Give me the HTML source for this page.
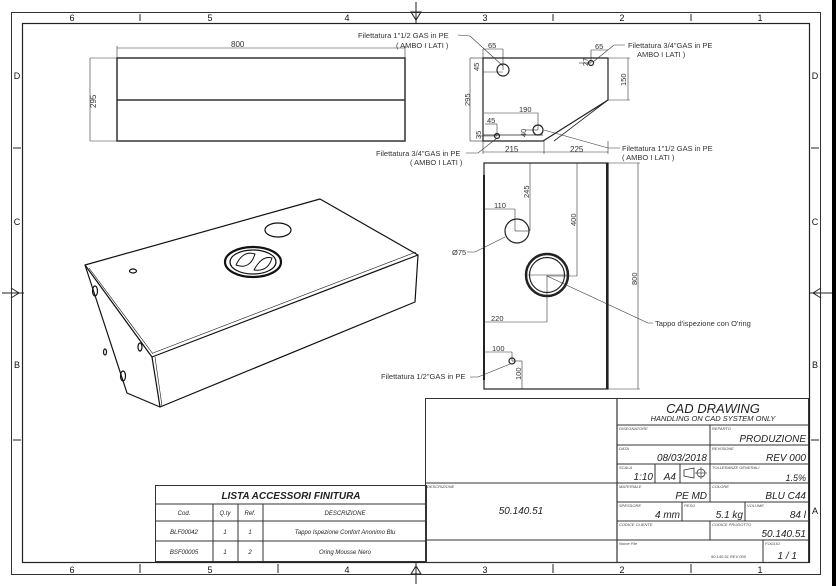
<!DOCTYPE html>
<html><head><meta charset="utf-8"><style>
html,body{margin:0;padding:0;background:#fff;}
svg{display:block;font-family:"Liberation Sans",sans-serif;}
</style></head><body>
<svg width="836" height="586" viewBox="0 0 836 586" xmlns="http://www.w3.org/2000/svg">
<rect x="0" y="0" width="836" height="586" fill="#fff"/>
<rect x="832" y="0" width="4" height="586" fill="#000"/>
<rect x="11.5" y="12.5" width="809" height="562" fill="none" stroke="#333" stroke-width="1"/>
<rect x="22.5" y="23.5" width="787" height="539" fill="none" stroke="#222" stroke-width="1.2"/>
<g font-size="9" fill="#111" text-anchor="middle">
<text x="72" y="21">6</text><text x="210" y="21">5</text><text x="347" y="21">4</text><text x="485" y="21">3</text><text x="622" y="21">2</text><text x="760" y="21">1</text>
<text x="72" y="573">6</text><text x="210" y="573">5</text><text x="347" y="573">4</text><text x="485" y="573">3</text><text x="622" y="573">2</text><text x="760" y="573">1</text>
<text x="17" y="79">D</text><text x="17" y="225">C</text><text x="17" y="368">B</text>
<text x="815" y="79">D</text><text x="815" y="225">C</text><text x="815" y="368">B</text><text x="815" y="514">A</text>
</g>
<g stroke="#222" stroke-width="1">
<line x1="140" y1="14" x2="140" y2="21"/><line x1="553" y1="14" x2="553" y2="21"/><line x1="691" y1="14" x2="691" y2="21"/>
<line x1="140" y1="564" x2="140" y2="573"/><line x1="278" y1="564" x2="278" y2="573"/><line x1="553" y1="564" x2="553" y2="573"/><line x1="691" y1="564" x2="691" y2="573"/>
<line x1="13" y1="148" x2="21" y2="148"/><line x1="13" y1="440" x2="21" y2="440"/>
<line x1="811" y1="148" x2="819" y2="148"/><line x1="811" y1="440" x2="819" y2="440"/>
<line x1="416" y1="2" x2="416" y2="24"/><path d="M411 12 L416 20 L421 12 Z" fill="none"/>
<line x1="416" y1="562" x2="416" y2="584"/><path d="M411 574 L416 566 L421 574 Z" fill="none"/>
<line x1="2" y1="293" x2="24" y2="293"/><path d="M11 288 L19 293 L11 298" fill="none"/>
<line x1="810" y1="293" x2="832" y2="293"/><path d="M821 288 L813 293 L821 298" fill="none"/>
</g>
<g stroke="#333" fill="none">
<rect x="117" y="58" width="288" height="83" stroke-width="1.5"/>
<line x1="117" y1="100" x2="405" y2="100" stroke-width="1.5"/>
<line x1="117" y1="48" x2="405" y2="48" stroke-width="0.6"/>
<line x1="117" y1="46" x2="117" y2="58" stroke-width="0.6"/>
<line x1="405" y1="46" x2="405" y2="58" stroke-width="0.6"/>
<line x1="90" y1="58" x2="90" y2="141" stroke-width="0.6"/>
<line x1="90" y1="58" x2="117" y2="58" stroke-width="0.6"/>
<line x1="90" y1="141" x2="117" y2="141" stroke-width="0.6"/>
</g>
<text x="231" y="47" font-size="8" fill="#333">800</text>
<text x="0" y="0" font-size="8" fill="#333" transform="translate(96,108) rotate(-90)">295</text>
<g stroke="#222" fill="none" stroke-width="1.2">
<path d="M483 58 L608 58 L608 100 L543 141 L483 141 Z"/>
<line x1="608" y1="100" x2="554" y2="141" stroke-width="0.8"/>
<line x1="483" y1="135" x2="543" y2="135" stroke-width="0.8"/>
<circle cx="503" cy="70" r="6"/>
<circle cx="591" cy="63" r="2.5"/>
<circle cx="538" cy="130" r="5"/>
<circle cx="497" cy="136" r="2.5"/>
</g>
<g stroke="#333" fill="none" stroke-width="0.6">
<line x1="470" y1="58" x2="470" y2="141"/><line x1="470" y1="58" x2="483" y2="58"/><line x1="470" y1="141" x2="483" y2="141"/>
<line x1="483" y1="49" x2="503" y2="49"/><line x1="483" y1="49" x2="483" y2="58"/><line x1="503" y1="49" x2="503" y2="70"/>
<line x1="483" y1="72" x2="503" y2="72"/>
<line x1="591" y1="50" x2="608" y2="50"/><line x1="591" y1="50" x2="591" y2="63"/>
<line x1="579" y1="63" x2="591" y2="63"/>
<line x1="608" y1="58" x2="630" y2="58"/><line x1="608" y1="100" x2="630" y2="100"/><line x1="628" y1="58" x2="628" y2="100"/>
<line x1="484" y1="113" x2="538" y2="113"/><line x1="538" y1="113" x2="538" y2="130"/>
<line x1="485" y1="124" x2="497" y2="124"/><line x1="497" y1="124" x2="497" y2="136"/>
<line x1="478" y1="136" x2="497" y2="136"/>
<line x1="525" y1="130" x2="538" y2="130"/>
<line x1="483" y1="152" x2="608" y2="152"/><line x1="483" y1="141" x2="483" y2="154"/><line x1="544" y1="141" x2="544" y2="154"/><line x1="608" y1="141" x2="608" y2="154"/>
<path d="M458 35 L470 36 L503 66"/>
<path d="M625 45 L614 45 L593 62"/>
<path d="M466 153 L478 153 L497 138"/>
<path d="M620 148 L608 148 L544 130"/>
</g>
<g font-size="7.5" fill="#333">
<text x="488" y="48">65</text><text x="595" y="49">65</text>
<text x="519" y="112">190</text><text x="487" y="123">45</text>
<text x="505" y="152" font-size="8">215</text><text x="570" y="152" font-size="8">225</text>
<text transform="translate(479,71) rotate(-90)">45</text>
<text transform="translate(588,66) rotate(-90)">27</text>
<text transform="translate(626,86) rotate(-90)">150</text>
<text transform="translate(470,106) rotate(-90)">295</text>
<text transform="translate(481,139) rotate(-90)">35</text>
<text transform="translate(526,137) rotate(-90)">40</text>
</g>
<g font-size="7.5" fill="#333">
<text x="358" y="38">Filettatura 1"1/2 GAS in PE</text>
<text x="396" y="48">( AMBO I LATI )</text>
<text x="628" y="48">Filettatura 3/4"GAS in PE</text>
<text x="637" y="57">AMBO I LATI )</text>
<text x="376" y="156">Filettatura 3/4"GAS in PE</text>
<text x="410" y="165">( AMBO I LATI )</text>
<text x="622" y="151">Filettatura 1"1/2 GAS in PE</text>
<text x="622" y="160">( AMBO I LATI )</text>
</g>
<g stroke="#222" fill="none" stroke-width="1.2">
<rect x="484" y="163" width="124" height="226"/>
<line x1="607" y1="163" x2="607" y2="389" stroke-width="2"/>
<line x1="484" y1="175" x2="484" y2="380" stroke-width="2"/>
<circle cx="517" cy="231" r="12"/>
<circle cx="547" cy="275" r="21" stroke-width="2.5"/>
<circle cx="547" cy="275" r="17.5"/>
<circle cx="512" cy="361" r="3"/>
</g>
<g stroke="#333" fill="none" stroke-width="0.6">
<line x1="484" y1="209" x2="515" y2="209"/><line x1="515" y1="209" x2="515" y2="231"/><line x1="515" y1="231" x2="529" y2="231"/>
<line x1="530" y1="163" x2="530" y2="231"/>
<line x1="577" y1="163" x2="577" y2="276"/><line x1="547" y1="276" x2="577" y2="276"/>
<line x1="527" y1="275" x2="567" y2="275"/>
<line x1="484" y1="322" x2="547" y2="322"/><line x1="547" y1="275" x2="547" y2="322"/>
<line x1="484" y1="352" x2="512" y2="352"/><line x1="512" y1="352" x2="512" y2="361"/>
<line x1="522" y1="361" x2="522" y2="389"/><line x1="512" y1="361" x2="522" y2="361"/>
<line x1="608" y1="163" x2="640" y2="163"/><line x1="608" y1="389" x2="640" y2="389"/><line x1="638" y1="163" x2="638" y2="389"/>
<path d="M467 252 L475 252 L505 237"/>
<path d="M653 323 L648 323 L547 276"/>
<path d="M470 377 L478 377 L510 364"/>
</g>
<g font-size="7.5" fill="#333">
<text x="494" y="208">110</text><text x="491" y="321">220</text><text x="492" y="351">100</text>
<text transform="translate(529,198) rotate(-90)">245</text>
<text transform="translate(576,226) rotate(-90)">400</text>
<text transform="translate(637,285) rotate(-90)">800</text>
<text transform="translate(521,380) rotate(-90)">100</text>
<text x="452" y="255">Ø75</text>
<text x="655" y="326">Tappo d'ispezione con O'ring</text>
<text x="381" y="379">Filettatura 1/2"GAS in PE</text>
</g>
<g stroke="#111" fill="none" stroke-width="1.2" stroke-linejoin="round">
<path d="M85 265 L320 199 L418 255 L152 357 Z"/>
<path d="M152 357 L160 407 L415 302 L418 255"/>
<path d="M85 265 L127 393 L160 407"/>
<line x1="153" y1="353" x2="416" y2="252" stroke-width="0.6"/>
<line x1="89" y1="268" x2="153" y2="354" stroke-width="0.6"/>
<line x1="155" y1="357" x2="162" y2="406" stroke-width="0.6"/>
<ellipse cx="253" cy="262" rx="28" ry="15" stroke-width="2.2"/>
<ellipse cx="253" cy="262" rx="23" ry="12"/>
<path d="M236 265 Q243 250 255 254 Q250 270 236 265Z" stroke-width="1"/>
<path d="M254 270 Q262 255 272 258 Q268 272 254 270Z" stroke-width="1"/>
<ellipse cx="278" cy="230" rx="13" ry="7"/>
<ellipse cx="133" cy="271" rx="3.5" ry="2"/>
<ellipse cx="95" cy="291" rx="2.5" ry="5"/>
<ellipse cx="123" cy="376" rx="2.5" ry="5"/>
<ellipse cx="140" cy="347" rx="2" ry="4"/>
<ellipse cx="105" cy="352" rx="1.5" ry="3"/>
</g>
<g stroke="#333" fill="none" stroke-width="1">
<rect x="425.5" y="398.5" width="383" height="164"/>
<line x1="617" y1="398" x2="617" y2="562" stroke-width="1.2"/>
<line x1="425" y1="483" x2="617" y2="483"/>
<line x1="425" y1="540" x2="617" y2="540"/>
<line x1="617" y1="425" x2="808" y2="425"/>
<line x1="617" y1="445" x2="808" y2="445"/>
<line x1="617" y1="464" x2="808" y2="464"/>
<line x1="617" y1="483" x2="808" y2="483"/>
<line x1="617" y1="502" x2="808" y2="502"/>
<line x1="617" y1="521" x2="808" y2="521"/>
<line x1="617" y1="540" x2="808" y2="540"/>
<line x1="710" y1="425" x2="710" y2="483"/>
<line x1="710" y1="521" x2="710" y2="540"/>
<line x1="710" y1="483" x2="710" y2="502"/>
<line x1="682" y1="502" x2="682" y2="521"/>
<line x1="745" y1="502" x2="745" y2="521"/>
<line x1="763" y1="540" x2="763" y2="562"/>
<line x1="655" y1="464" x2="655" y2="483"/>
<line x1="680" y1="464" x2="680" y2="483"/>
<path d="M684 470 L694 468 L694 478 L684 476 Z" stroke-width="0.8"/>
<circle cx="701" cy="473" r="4" stroke-width="0.8"/>
<line x1="695" y1="473" x2="707" y2="473" stroke-width="0.6"/><line x1="701" y1="467" x2="701" y2="479" stroke-width="0.6"/>
</g>
<g fill="#222" font-style="italic">
<text x="713" y="413" font-size="13" text-anchor="middle">CAD  DRAWING</text>
<text x="713" y="421" font-size="7.5" text-anchor="middle">HANDLING  ON  CAD SYSTEM  ONLY</text>
<g font-size="4" fill="#444">
<text x="619" y="430">DISEGNATORE</text><text x="712" y="430">REPARTO</text>
<text x="619" y="450">DATA</text><text x="712" y="450">REVISIONE</text>
<text x="619" y="469">SCALA</text><text x="712" y="469">TOLLERANZE GENERALI</text>
<text x="619" y="488">MATERIALE</text><text x="712" y="488">COLORE</text>
<text x="619" y="507">SPESSORE</text><text x="684" y="507">PESO</text><text x="747" y="507">VOLUME</text>
<text x="619" y="526">CODICE CLIENTE</text><text x="712" y="526">CODICE PRODOTTO</text>
<text x="619" y="545">Nome File</text><text x="765" y="545">FOGLIO</text>
<text x="427" y="488">DESCRIZIONE</text>
<text x="711" y="558">50.140.51 REV 000</text>
</g>
<g font-size="10" text-anchor="end">
<text x="806" y="442">PRODUZIONE</text>
<text x="707" y="461">08/03/2018</text>
<text x="806" y="461">REV 000</text>
<text x="653" y="480">1:10</text>
<text x="676" y="480">A4</text>
<text x="806" y="481" font-size="9">1.5%</text>
<text x="707" y="499">PE MD</text>
<text x="806" y="499">BLU C44</text>
<text x="680" y="518">4 mm</text>
<text x="743" y="518">5.1 kg</text>
<text x="806" y="518">84 l</text>
<text x="806" y="537">50.140.51</text>
<text x="797" y="559">1 / 1</text>
</g>
<text x="521" y="514" font-size="10" text-anchor="middle">50.140.51</text>
</g>
<g stroke="#333" fill="none" stroke-width="1">
<rect x="155.5" y="485.5" width="271" height="76"/>
<line x1="155" y1="504" x2="427" y2="504"/>
<line x1="155" y1="521" x2="427" y2="521"/>
<line x1="155" y1="541" x2="427" y2="541"/>
<line x1="213" y1="504" x2="213" y2="562"/>
<line x1="238" y1="504" x2="238" y2="562"/>
<line x1="263" y1="504" x2="263" y2="562"/>
</g>
<g fill="#222" font-style="italic" text-anchor="middle">
<text x="291" y="499" font-size="10" font-weight="bold">LISTA ACCESSORI FINITURA</text>
<g font-size="6">
<text x="184" y="515">Cod.</text><text x="225" y="515">Q.ty</text><text x="250" y="515">Ref.</text><text x="345" y="515">DESCRIZIONE</text>
<text x="184" y="534">BLF00042</text><text x="225" y="534">1</text><text x="250" y="534">1</text><text x="345" y="534">Tappo Ispezione Confort Anonimo Blu</text>
<text x="184" y="554">BSF00005</text><text x="225" y="554">1</text><text x="250" y="554">2</text><text x="345" y="554">Oring Mousse Nero</text>
</g>
</g>
</svg>
</body></html>
